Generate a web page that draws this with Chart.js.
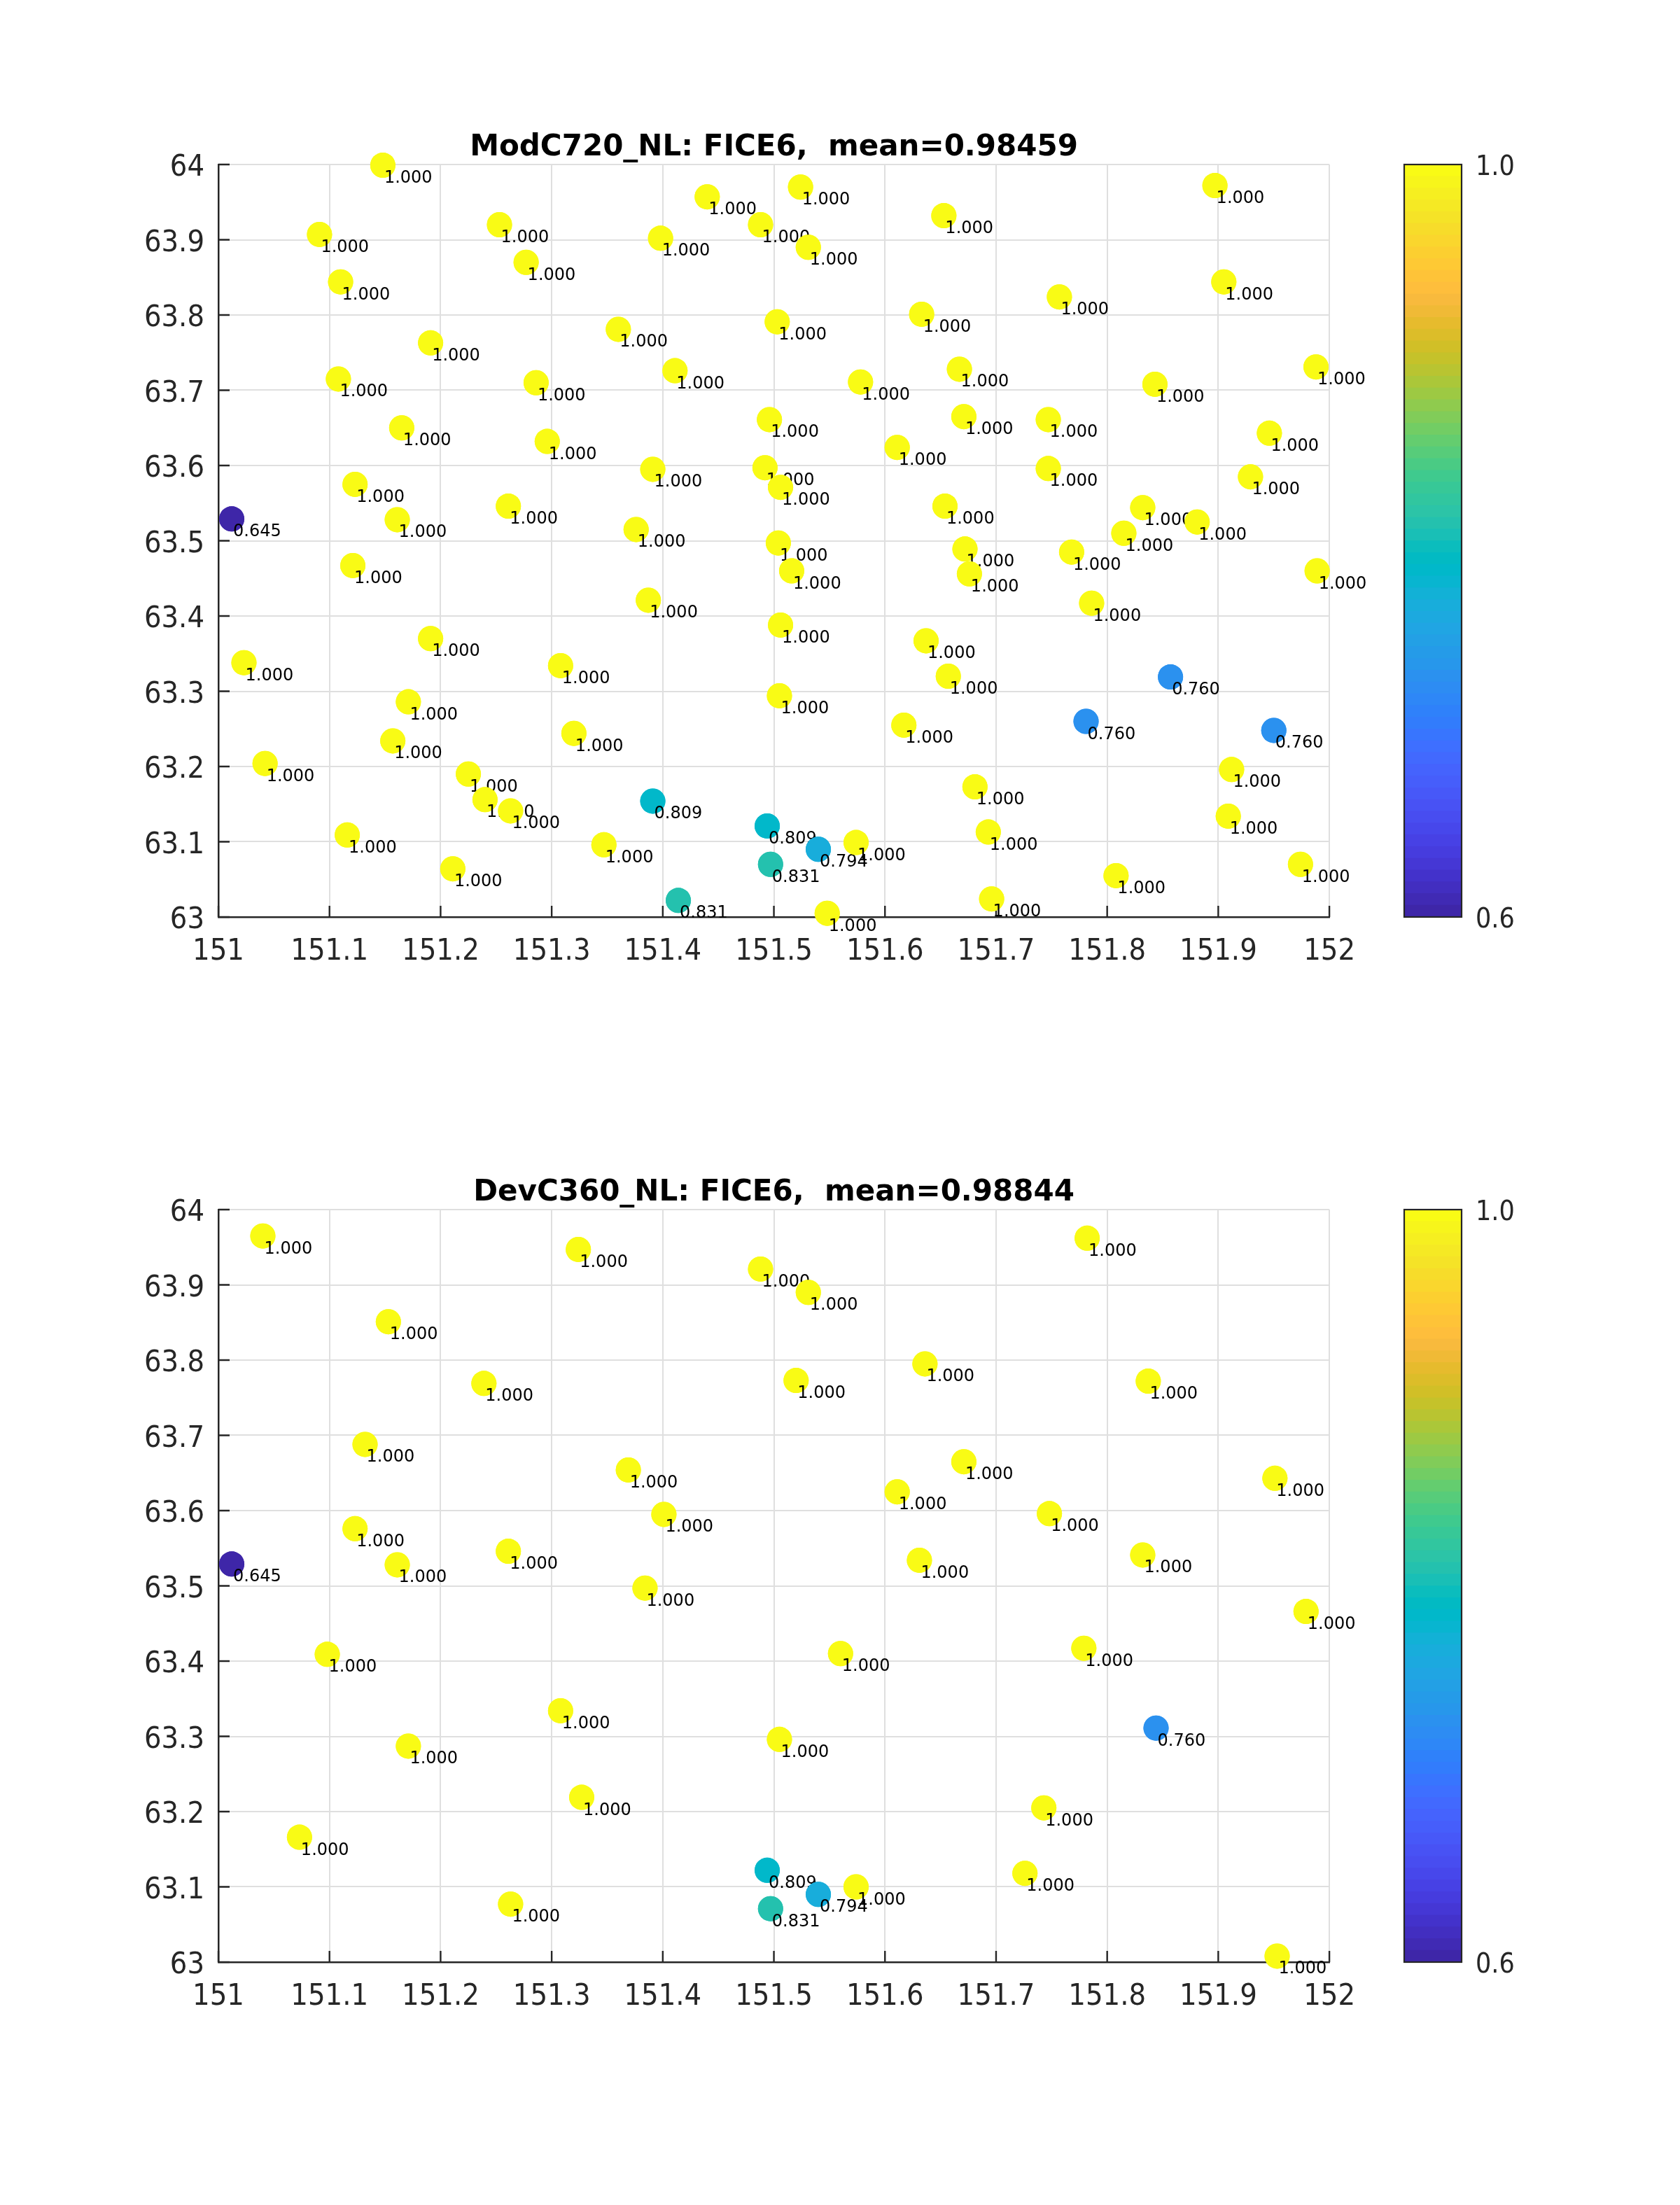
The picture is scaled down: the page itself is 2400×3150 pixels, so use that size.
<!DOCTYPE html>
<html><head><meta charset="utf-8">
<script src="https://cdn.jsdelivr.net/npm/chart.js@4.4.0/dist/chart.umd.min.js"></script>
<style>
html,body{margin:0;padding:0;background:#fff;}
body{width:2400px;height:3150px;position:relative;overflow:hidden;}
canvas{position:absolute;}
</style></head><body>
<canvas id="c1" width="1960" height="1493" style="left:0px;top:0px"></canvas>
<canvas id="cb1" width="440" height="1493" style="left:1960px;top:0px"></canvas>
<canvas id="c2" width="1960" height="1493" style="left:0px;top:1493px"></canvas>
<canvas id="cb2" width="440" height="1493" style="left:1960px;top:1493px"></canvas>
<script>
// ---------------- DATA ----------------
const title1 = 'ModC720_NL: FICE6,  mean=0.98459';
const title2 = 'DevC360_NL: FICE6,  mean=0.98844';

const xTickValues = [151, 151.1, 151.2, 151.3, 151.4, 151.5, 151.6, 151.7, 151.8, 151.9, 152];
const xTickLabels = ['151','151.1','151.2','151.3','151.4','151.5','151.6','151.7','151.8','151.9','152'];
const yTickValues = [63, 63.1, 63.2, 63.3, 63.4, 63.5, 63.6, 63.7, 63.8, 63.9, 64];
const yTickLabels = ['63','63.1','63.2','63.3','63.4','63.5','63.6','63.7','63.8','63.9','64'];
const cbTickValues = [0.6, 1.0];
const cbTickLabels = ['0.6', '1.0'];

// Plot 1 : ModC720_NL
const lon1 = [151.148,151.091,151.110,151.253,151.277,151.398,151.440,151.488,151.524,151.531,
  151.653,151.897,151.905,151.757,151.633,151.503,151.360,151.191,151.108,151.286,
  151.411,151.578,151.667,151.843,151.988,151.165,151.296,151.496,151.671,151.747,
  151.611,151.946,151.391,151.492,151.506,151.747,151.929,151.123,151.261,151.161,
  151.012,151.376,151.654,151.832,151.881,151.815,151.504,151.672,151.768,151.516,
  151.676,151.989,151.121,151.387,151.786,151.506,151.637,151.191,151.023,151.308,
  151.657,151.857,151.505,151.171,151.781,151.950,151.617,151.320,151.157,151.042,
  151.225,151.912,151.240,151.263,151.391,151.681,151.909,151.116,151.347,151.494,
  151.540,151.574,151.693,151.497,151.211,151.808,151.974,151.414,151.548,151.696];
const lat1 = [63.999,63.907,63.844,63.920,63.870,63.902,63.957,63.920,63.970,63.890,
  63.932,63.972,63.844,63.824,63.801,63.791,63.781,63.763,63.715,63.710,
  63.726,63.711,63.728,63.708,63.731,63.650,63.632,63.661,63.665,63.661,
  63.624,63.643,63.595,63.597,63.571,63.596,63.585,63.575,63.546,63.528,
  63.529,63.515,63.546,63.544,63.525,63.510,63.497,63.489,63.485,63.460,
  63.456,63.460,63.467,63.421,63.417,63.388,63.367,63.370,63.338,63.334,
  63.320,63.319,63.294,63.286,63.260,63.248,63.255,63.244,63.234,63.204,
  63.190,63.196,63.156,63.141,63.154,63.173,63.134,63.109,63.096,63.121,
  63.090,63.099,63.113,63.070,63.064,63.055,63.070,63.022,63.005,63.024];
const val1 = [1,1,1,1,1,1,1,1,1,1,
  1,1,1,1,1,1,1,1,1,1,
  1,1,1,1,1,1,1,1,1,1,
  1,1,1,1,1,1,1,1,1,1,
  0.645,1,1,1,1,1,1,1,1,1,
  1,1,1,1,1,1,1,1,1,1,
  1,0.760,1,1,0.760,0.760,1,1,1,1,
  1,1,1,1,0.809,1,1,1,1,0.809,
  0.794,1,1,0.831,1,1,1,0.831,1,1];

// Plot 2 : DevC360_NL
const lon2 = [151.040,151.324,151.488,151.153,151.239,151.132,151.369,151.401,151.123,151.261,
  151.012,151.161,151.384,151.098,151.308,151.171,151.327,151.073,151.263,151.531,
  151.782,151.520,151.636,151.837,151.671,151.611,151.951,151.748,151.631,151.832,
  151.979,151.560,151.779,151.505,151.844,151.743,151.726,151.494,151.540,151.574,
  151.497,151.953];
const lat2 = [63.965,63.947,63.921,63.851,63.769,63.688,63.654,63.595,63.576,63.546,
  63.529,63.528,63.497,63.409,63.334,63.287,63.219,63.166,63.077,63.890,
  63.962,63.773,63.795,63.772,63.665,63.625,63.643,63.596,63.534,63.541,
  63.466,63.410,63.417,63.296,63.311,63.205,63.118,63.122,63.090,63.100,
  63.071,63.008];
const val2 = [1,1,1,1,1,1,1,1,1,1,
  0.645,1,1,1,1,1,1,1,1,1,
  1,1,1,1,1,1,1,1,1,1,
  1,1,1,1,0.760,1,1,0.809,0.794,1,
  0.831,1];

// ---------------- STYLE ----------------
const PARULA = [
[0.2422,0.1504,0.6603],[0.2504,0.1650,0.7076],[0.2578,0.1818,0.7511],[0.2647,0.1978,0.7952],
[0.2706,0.2147,0.8364],[0.2751,0.2342,0.8710],[0.2783,0.2559,0.8991],[0.2803,0.2782,0.9221],
[0.2813,0.3006,0.9414],[0.2810,0.3228,0.9579],[0.2795,0.3447,0.9717],[0.2760,0.3667,0.9829],
[0.2699,0.3892,0.9906],[0.2602,0.4123,0.9952],[0.2440,0.4358,0.9988],[0.2206,0.4603,0.9973],
[0.1963,0.4847,0.9892],[0.1834,0.5074,0.9798],[0.1786,0.5289,0.9682],[0.1764,0.5499,0.9520],
[0.1687,0.5703,0.9359],[0.1540,0.5902,0.9218],[0.1460,0.6091,0.9079],[0.1380,0.6276,0.8973],
[0.1248,0.6459,0.8883],[0.1113,0.6635,0.8763],[0.0952,0.6798,0.8598],[0.0689,0.6948,0.8394],
[0.0297,0.7082,0.8163],[0.0036,0.7203,0.7917],[0.0067,0.7312,0.7660],[0.0433,0.7411,0.7394],
[0.0964,0.7500,0.7120],[0.1408,0.7584,0.6842],[0.1717,0.7670,0.6554],[0.1938,0.7758,0.6251],
[0.2161,0.7843,0.5923],[0.2470,0.7918,0.5567],[0.2906,0.7973,0.5188],[0.3406,0.8008,0.4789],
[0.3909,0.8029,0.4354],[0.4456,0.8024,0.3909],[0.5044,0.7993,0.3480],[0.5616,0.7942,0.3045],
[0.6174,0.7876,0.2612],[0.6720,0.7793,0.2227],[0.7242,0.7698,0.1910],[0.7738,0.7598,0.1646],
[0.8203,0.7498,0.1535],[0.8634,0.7406,0.1596],[0.9035,0.7330,0.1774],[0.9393,0.7288,0.2100],
[0.9728,0.7298,0.2394],[0.9956,0.7434,0.2371],[0.9970,0.7659,0.2199],[0.9952,0.7893,0.2028],
[0.9892,0.8136,0.1885],[0.9786,0.8386,0.1766],[0.9676,0.8639,0.1643],[0.9610,0.8890,0.1537],
[0.9597,0.9135,0.1423],[0.9628,0.9373,0.1265],[0.9691,0.9606,0.1064],[0.9769,0.9839,0.0805]];
const rgb = c => 'rgb(' + c.map(v => Math.round(v * 255)).join(',') + ')';
function mapColors(vals) {
  const lo = Math.min(...vals), hi = Math.max(...vals);
  return vals.map(v => {
    let k = Math.floor((v - lo) / (hi - lo) * PARULA.length);
    k = Math.max(0, Math.min(PARULA.length - 1, k));
    return rgb(PARULA[k]);
  });
}

const AXC = '#262626';
const GRID = '#dfdfdf';
const TICKFONT = { family: "'DejaVu Sans Condensed', 'DejaVu Sans', sans-serif", size: 43 };
const LABELFONT = "24px 'DejaVu Sans', sans-serif";
const AREA = { left: 312, top: 235, right: 1902, bottom: 1310 };

const innerTicks = {
  id: 'innerTicks',
  beforeDatasetsDraw(chart) {
    const ctx = chart.ctx, a = chart.chartArea;
    const xs = chart.scales.x, ys = chart.scales.y;
    ctx.save();
    ctx.strokeStyle = AXC; ctx.lineWidth = 2.4;
    ctx.beginPath();
    xs.ticks.forEach(t => { const p = xs.getPixelForValue(t.value); ctx.moveTo(p, a.bottom); ctx.lineTo(p, a.bottom - 16); });
    ys.ticks.forEach(t => { const p = ys.getPixelForValue(t.value); ctx.moveTo(a.left, p); ctx.lineTo(a.left + 16, p); });
    ctx.stroke();
    ctx.restore();
  }
};

const pointLabels = {
  id: 'pointLabels',
  afterDatasetsDraw(chart) {
    const ctx = chart.ctx;
    const meta = chart.getDatasetMeta(0);
    const vals = chart.data.datasets[0].values;
    ctx.save();
    meta.data.forEach((el, i) => {
      el.draw(ctx, chart.chartArea);
      ctx.font = LABELFONT;
      ctx.fillStyle = '#000';
      ctx.textAlign = 'left';
      ctx.textBaseline = 'alphabetic';
      ctx.fillText(vals[i].toFixed(3), el.x + 2, el.y + 25);
    });
    ctx.restore();
  }
};

function makeMap(id, title, lon, lat, vals) {
  const canvas = document.getElementById(id);
  const H = canvas.height, W = canvas.width;
  return new Chart(canvas, {
    type: 'scatter',
    data: {
      datasets: [{
        data: lon.map((x, i) => ({ x: x, y: lat[i] })),
        values: vals,
        backgroundColor: mapColors(vals),
        borderWidth: 0,
        pointRadius: 18,
        pointHoverRadius: 18,
        clip: false
      }]
    },
    options: {
      responsive: false, animation: false, devicePixelRatio: 1, events: [],
      layout: { padding: { left: 0, top: 0, right: W - AREA.right, bottom: 0 } },
      plugins: {
        legend: { display: false }, tooltip: { enabled: false },
        title: {
          display: true, text: title, fullSize: false, color: '#000',
          font: { family: "'DejaVu Sans', sans-serif", weight: 'bold', size: 42, lineHeight: 1 },
          padding: { top: 190, bottom: AREA.top - 190 - 42 }
        }
      },
      scales: {
        x: {
          type: 'linear', min: 151, max: 152,
          afterBuildTicks: s => { s.ticks = xTickValues.map(v => ({ value: v })); },
          afterFit: s => { s.height = H - AREA.bottom; },
          ticks: { callback: (v, i) => xTickLabels[i], font: TICKFONT, color: AXC, padding: 24, maxRotation: 0, autoSkip: false },
          grid: { color: GRID, lineWidth: 2, drawTicks: false },
          border: { color: AXC, width: 2.5 }
        },
        y: {
          type: 'linear', min: 63, max: 64,
          afterBuildTicks: s => { s.ticks = yTickValues.map(v => ({ value: v })); },
          afterFit: s => { s.width = AREA.left; },
          ticks: { callback: (v, i) => yTickLabels[i], font: TICKFONT, color: AXC, padding: 20, labelOffset: 5, autoSkip: false },
          grid: { color: GRID, lineWidth: 2, drawTicks: false },
          border: { color: AXC, width: 2.5 }
        }
      }
    },
    plugins: [innerTicks, pointLabels]
  });
}

const cbBox = {
  id: 'cbBox',
  afterDraw(chart) {
    const ctx = chart.ctx, a = chart.chartArea;
    ctx.save();
    ctx.strokeStyle = AXC; ctx.lineWidth = 2.2;
    ctx.strokeRect(a.left, a.top, a.right - a.left, a.bottom - a.top);
    ctx.restore();
  }
};

function makeColorbar(id) {
  const canvas = document.getElementById(id);
  const H = canvas.height, W = canvas.width;
  const lo = cbTickValues[0], hi = cbTickValues[cbTickValues.length - 1];
  const n = PARULA.length, step = (hi - lo) / n;
  const datasets = PARULA.map((c, i) => ({
    data: [[lo + i * step - (i > 0 ? step * 0.25 : 0), lo + (i + 1) * step]],
    backgroundColor: rgb(c), borderWidth: 0, grouped: false,
    barPercentage: 1, categoryPercentage: 1
  }));
  return new Chart(canvas, {
    type: 'bar',
    data: { labels: [''], datasets: datasets },
    options: {
      responsive: false, animation: false, devicePixelRatio: 1, events: [],
      layout: { padding: { left: 2006 - 1960, top: AREA.top, right: 0, bottom: H - AREA.bottom } },
      plugins: { legend: { display: false }, tooltip: { enabled: false }, title: { display: false } },
      scales: {
        x: { display: false },
        y: {
          position: 'right', min: lo, max: hi,
          afterBuildTicks: s => { s.ticks = cbTickValues.map(v => ({ value: v })); },
          afterFit: s => { s.width = W - (2088 - 1960); },
          ticks: { callback: (v, i) => cbTickLabels[i], font: { family: TICKFONT.family, size: 39 }, color: AXC, padding: 20, labelOffset: 5 },
          grid: { display: false, drawTicks: false },
          border: { display: false }
        }
      }
    },
    plugins: [cbBox]
  });
}

makeMap('c1', title1, lon1, lat1, val1);
makeMap('c2', title2, lon2, lat2, val2);
makeColorbar('cb1');
makeColorbar('cb2');
</script>
</body></html>
